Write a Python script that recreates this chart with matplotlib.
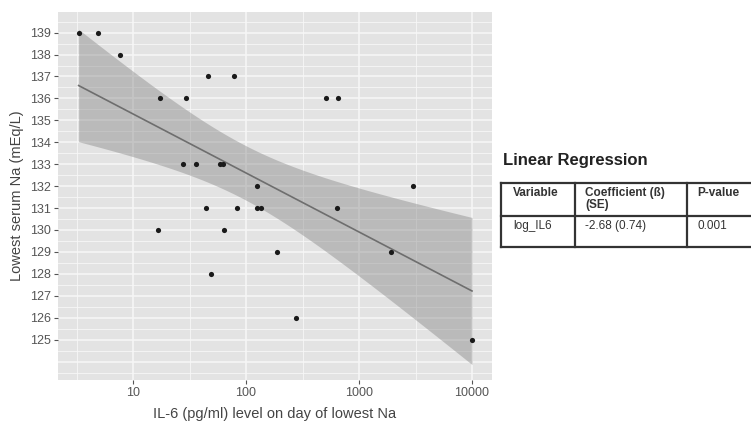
import numpy as np
import matplotlib
matplotlib.use("Agg")
import matplotlib.pyplot as plt
from matplotlib.lines import Line2D

plt.rcParams['font.family'] = ['Liberation Sans', 'DejaVu Sans']

# Data
il6 = [3.3, 4.9, 7.6, 17.3, 29.2, 46.4, 78.8, 27.9, 36.1, 58.9, 63.0,
       44.0, 83.8, 16.5, 63.8, 49.3, 511, 656, 124, 2985, 124, 135,
       643, 187, 1918, 277, 10000]
na = [139, 139, 138, 136, 136, 137, 137, 133, 133, 133, 133,
      131, 131, 130, 130, 128, 136, 136, 132, 132, 131, 131,
      131, 129, 129, 126, 125]

y_ticks = list(range(125, 140))
x_ticks = [10, 100, 1000, 10000]
x_tick_labels = ["10", "100", "1000", "10000"]

table_title = "Linear Regression"
table_header = ["Variable", "Coefficient (ß)\n(SE)", "P-value"]
table_row = ["log_IL6", "-2.68 (0.74)", "0.001"]

W, H = 751, 423
fig = plt.figure(figsize=(W / 100, H / 100), dpi=100)
fig.patch.set_facecolor("white")

def fx(px):
    return px / W

def fy(py):
    return 1 - py / H

ax = fig.add_axes([fx(58), fy(380), fx(492) - fx(58), fy(12) - fy(380)])
ax.set_facecolor("#E3E3E3")
ax.set_xscale("log")

lx = np.log10(np.array(il6, dtype=float))
ny = np.array(na, dtype=float)
n = len(lx)
slope, intercept = np.polyfit(lx, ny, 1)
xg = np.linspace(lx.min(), lx.max(), 200)
yfit = intercept + slope * xg
resid = ny - (intercept + slope * lx)
s = np.sqrt(np.sum(resid ** 2) / (n - 2))
sxx = np.sum((lx - lx.mean()) ** 2)
se = s * np.sqrt(1 / n + (xg - lx.mean()) ** 2 / sxx)
tval = 2.060
lo, hi = yfit - tval * se, yfit + tval * se

xlim_log = (0.336, 4.177)
ax.set_xlim(10 ** xlim_log[0], 10 ** xlim_log[1])
ax.set_ylim(123.16, 139.94)

# grid: minor and major
for yv in np.arange(123.5, 140.0, 0.5):
    major = float(yv).is_integer()
    ax.axhline(yv, color="#F7F7F7", lw=1.1 if major else 0.6, zorder=0)
for d in [0.5, 1.5, 2.5, 3.5]:
    ax.axvline(10 ** d, color="#F7F7F7", lw=0.6, zorder=0)
for xv in x_ticks:
    ax.axvline(xv, color="#F7F7F7", lw=1.1, zorder=0)

ax.fill_between(10 ** xg, lo, hi, color="#8A8A8A", alpha=0.45, lw=0, zorder=1)
ax.plot(10 ** xg, yfit, color="#6E6E6E", lw=1.2, zorder=2)
ax.scatter(il6, na, s=14, color="#1A1A1A", zorder=3, linewidths=0)

ax.set_xticks(x_ticks)
ax.set_xticklabels(x_tick_labels)
ax.xaxis.set_minor_locator(matplotlib.ticker.NullLocator())
ax.set_yticks(y_ticks)
ax.set_yticklabels([str(v) for v in y_ticks])
ax.tick_params(axis="both", length=3, width=0.8, color="#555555",
               labelcolor="#555555", labelsize=9, pad=2)
for sp in ax.spines.values():
    sp.set_visible(False)

ax.set_xlabel("IL-6 (pg/ml) level on day of lowest Na", fontsize=10.5,
              color="#444444", labelpad=6)
ax.set_ylabel("Lowest serum Na (mEq/L)", fontsize=10.5, color="#444444",
              labelpad=4)

# Table
fig.text(fx(503), fy(161), table_title, fontsize=12, fontweight="bold",
         color="#222222", va="center", ha="left")
lc = "#333333"
lw = 1.6
x0, x1, x2, x3 = 501, 575, 687, 760
y0, y1, y2 = 183, 216, 247
for yy in (y0, y1, y2):
    fig.add_artist(Line2D([fx(x0), fx(x3)], [fy(yy), fy(yy)], color=lc, lw=lw))
for xx in (x0, x1, x2):
    fig.add_artist(Line2D([fx(xx), fx(xx)], [fy(y0), fy(y2)], color=lc, lw=lw))

cols = [513, 585, 697]
fig.text(fx(cols[0]), fy(187), table_header[0], fontsize=8.5, fontweight="bold",
         color="#333333", va="top", ha="left")
fig.text(fx(cols[1]), fy(187), table_header[1], fontsize=8.5, fontweight="bold",
         color="#333333", va="top", ha="left", linespacing=1.0)
fig.text(fx(cols[2]), fy(187), table_header[2], fontsize=8.5, fontweight="bold",
         color="#333333", va="top", ha="left")
for c, t in zip(cols, table_row):
    fig.text(fx(c), fy(220), t, fontsize=8.5, color="#333333", va="top", ha="left")

fig.savefig("out.png", dpi=100)
